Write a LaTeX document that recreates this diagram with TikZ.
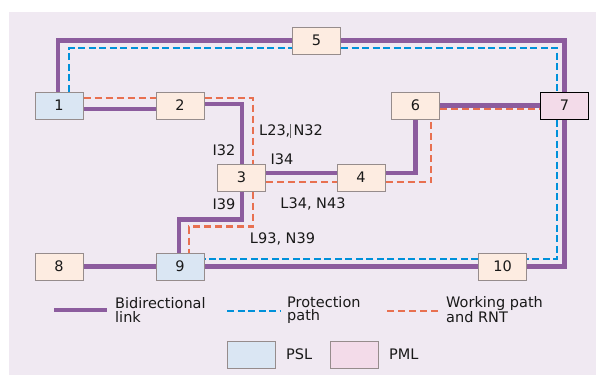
\documentclass[tikz,border=0pt]{standalone}
\usepackage{fontspec}
\setmainfont{DejaVu Sans}
\usetikzlibrary{calc}
\definecolor{bgcol}{RGB}{240,233,242}
\definecolor{linkpurple}{RGB}{140,92,158}
\definecolor{protblue}{RGB}{0,145,218}
\definecolor{workorange}{RGB}{232,112,80}
\definecolor{peach}{RGB}{253,236,225}
\definecolor{pslblue}{RGB}{218,230,243}
\definecolor{pmlpink}{RGB}{243,219,233}
\definecolor{boxgray}{RGB}{150,140,140}
\pgfdeclarelayer{back}
\pgfdeclarelayer{mid}
\pgfsetlayers{back,mid,main}
\tikzset{
  plink/.style={line width=4.3pt, draw=linkpurple},
  prot/.style={line width=2.8pt, draw=protblue, dash pattern=on 7pt off 3.5pt},
  work/.style={line width=2.8pt, draw=workorange, dash pattern=on 7pt off 4pt},
  nodebox/.style={draw=boxgray, line width=1pt, fill=peach, minimum width=48pt, minimum height=27pt, inner sep=0pt, text=black!90},
  psl/.style={nodebox, fill=pslblue},
  pml/.style={nodebox, fill=pmlpink, draw=black},
  lbl/.style={inner sep=0pt, text=black!90},
  legtext/.style={inner sep=0pt, align=left, anchor=west, text=black!90, font=\fontsize{14.5}{13.5}\selectfont}
}
\begin{document}
\begin{tikzpicture}[x=1pt,y=-1pt,font=\fontsize{14.5}{14.5}\selectfont]
\useasboundingbox (0,0) rectangle (596,375);
\begin{pgfonlayer}{back}
\fill[bgcol] (9,12) rectangle (596,375);
\end{pgfonlayer}

% nodes
\node[psl] (n1) at (59,105.5) {1};
\node[nodebox] (n2) at (180,105.5) {2};
\node[nodebox] (n3) at (241.5,177.5) {3};
\node[nodebox] (n4) at (361,177.5) {4};
\node[nodebox] (n5) at (316.5,40.5) {5};
\node[nodebox] (n6) at (415.5,105.5) {6};
\node[pml] (n7) at (564.5,105.5) {7};
\node[nodebox] (n8) at (59,266.5) {8};
\node[psl] (n9) at (180,266.5) {9};
\node[nodebox] (n10) at (502.5,266.5) {10};

\begin{pgfonlayer}{mid}
% bidirectional links
\draw[plink] ([xshift=-1pt]n1.north) |- (n5.west);
\draw[plink] (n5.east) -| (n7.north);
\draw[plink] (n7.south) |- (n10.east);
\draw[plink] (n10.west) -- (n9.east);
\draw[plink] (n8.east) -- (n9.west);
\draw[plink] ([yshift=-3.5pt]n1.east) -- ([yshift=-3.5pt]n2.west);
\draw[plink] ([yshift=1.5pt]n2.east) -| ([xshift=0.5pt]n3.north);
\draw[plink] ([yshift=4.5pt]n3.east) -- ([yshift=4.5pt]n4.west);
\draw[plink] ([yshift=4.5pt]n4.east) -| (n6.south);
\draw[plink] (n6.east) -- (n7.west);
\draw[plink] ([xshift=0.5pt]n3.south) |- ([xshift=-1pt,yshift=33pt]n9.north) -- ([xshift=-1pt]n9.north);
% protection path
\draw[prot] ([xshift=10pt]n1.north) |- ([yshift=-7.5pt]n5.west);
\draw[prot] ([yshift=-7.5pt]n5.east) -| ([xshift=-7.5pt]n7.north);
\draw[prot] ([xshift=-7.5pt]n7.south) |- ([yshift=7.5pt]n10.east);
\draw[prot] ([yshift=7.5pt]n10.west) -- ([yshift=7.5pt]n9.east);
% working path
\draw[work] ([yshift=7.5pt]n1.east) -- ([yshift=7.5pt]n2.west);
\draw[work] ([yshift=7.5pt]n2.east) -| ([xshift=11.5pt]n3.north);
\draw[work] ([yshift=-4.5pt]n3.east) -- ([yshift=-4.5pt]n4.west);
\draw[work] ([yshift=-4.5pt]n4.east) -| ([xshift=15.5pt]n6.south);
\draw[work] ([yshift=-3.5pt]n6.east) -- ([yshift=-3.5pt]n7.west);
\draw[work] ([xshift=11.5pt]n3.south) |- ([xshift=9pt,yshift=26pt]n9.north) -- ([xshift=9pt]n9.north);
\end{pgfonlayer}

% labels
\node[lbl,anchor=west] (l23) at (259,131) {L23,\kern-0.5pt\textcolor{black!60}{\rule[-3pt]{0.7pt}{14pt}}\kern3pt N32};
\node[lbl] (i32) at (224,150) {I32};
\node[lbl] (i34) at (282,159) {I34};
\node[lbl] (i39) at (224,204.5) {I39};
\node[lbl] (l34) at (313,204) {L34, N43};
\node[lbl] (l93) at (282.5,238.5) {L93, N39};

% legend
\coordinate (lp1) at (54,310); \coordinate (lp2) at (107,310);
\draw[plink] (lp1) -- (lp2);
\node[legtext] (tp) at (115,310) {Bidirectional\\link};
\coordinate (lb1) at (227,311); \coordinate (lb2) at (281,311);
\draw[prot] (lb1) -- (lb2);
\node[legtext] (tb) at (287,310) {Protection\\path};
\coordinate (lo1) at (387,311); \coordinate (lo2) at (440,311);
\draw[work] (lo1) -- (lo2);
\node[legtext] (to) at (446,310) {Working path\\and RNT};
\node[psl] (kpsl) at (251,354.5) {};
\node[legtext] (tpsl) at (286,354.5) {PSL};
\node[pml,draw=boxgray] (kpml) at (354.5,354.5) {};
\node[legtext] (tpml) at (389,354.5) {PML};
\end{tikzpicture}
\end{document}
